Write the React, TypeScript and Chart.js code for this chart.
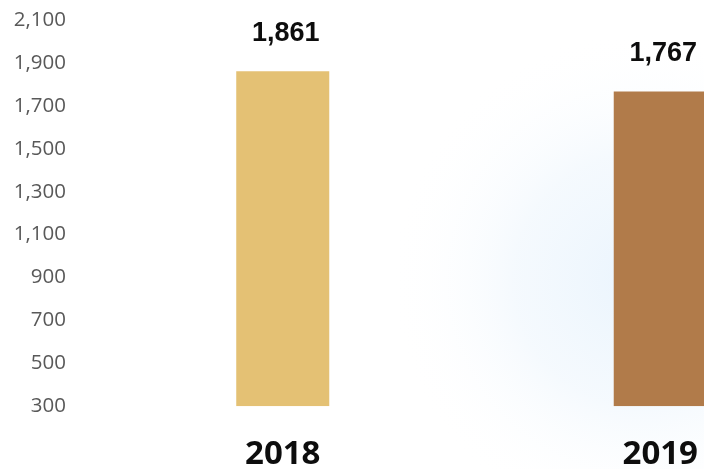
import React, { useEffect, useRef } from "react";
import { Chart, registerables } from "chart.js";

Chart.register(...registerables);

const categories: string[] = ["2018", "2019"];
const values: number[] = [1861, 1767];
const barColors: string[] = ["#E4C174", "#B17B4A"];
const yMin = 300;
const yMax = 2100;
const yStep = 200;

const W = 849;
const H = 469;

const bgPlugin = {
  id: "bgGlow",
  beforeDraw(chart: any) {
    const ctx = chart.ctx;
    ctx.save();
    ctx.fillStyle = "#ffffff";
    ctx.fillRect(0, 0, chart.width, chart.height);
    const g = ctx.createRadialGradient(640, 280, 0, 640, 280, 250);
    g.addColorStop(0, "rgba(232,243,253,0.9)");
    g.addColorStop(0.5, "rgba(238,246,253,0.6)");
    g.addColorStop(1, "rgba(255,255,255,0)");
    ctx.fillStyle = g;
    ctx.fillRect(0, 0, chart.width, chart.height);
    ctx.restore();
  },
};

const labelPlugin = {
  id: "valueLabels",
  afterDatasetsDraw(chart: any) {
    const ctx = chart.ctx;
    const meta = chart.getDatasetMeta(0);
    ctx.save();
    ctx.font = "bold 27px 'Liberation Sans', Arial, sans-serif";
    ctx.fillStyle = "#0d0d0d";
    ctx.textAlign = "center";
    ctx.textBaseline = "alphabetic";
    meta.data.forEach((el: any, i: number) => {
      const v = chart.data.datasets[0].data[i] as number;
      ctx.fillText(v.toLocaleString("en-US"), el.x + 3, el.y - 30);
    });
    ctx.restore();
  },
};

export default function App() {
  const ref = useRef<HTMLCanvasElement | null>(null);
  useEffect(() => {
    if (!ref.current) return;
    const chart = new Chart(ref.current, {
      type: "bar",
      data: {
        labels: categories,
        datasets: [
          {
            data: values,
            backgroundColor: barColors,
            borderWidth: 0,
            base: yMin,
            categoryPercentage: 1,
            barPercentage: 0.2464,
          } as any,
        ],
      },
      options: {
        animation: false,
        responsive: false,
        devicePixelRatio: 1,
        layout: { padding: { top: 20, left: 0, right: 0, bottom: 0 } },
        plugins: {
          legend: { display: false },
          tooltip: { enabled: false },
        },
        scales: {
          x: {
            grid: { display: false, drawTicks: false },
            border: { display: false },
            ticks: {
              padding: 28,
              color: "#0d0d0d",
              font: { family: "'Open Sans', sans-serif", size: 33, weight: "bold" },
            },
            afterFit(scale: any) {
              scale.height = 62.7;
              scale.paddingLeft = 0;
              scale.paddingRight = 0;
            },
          },
          y: {
            min: yMin,
            max: yMax,
            grid: { display: false, drawTicks: false },
            border: { display: false },
            ticks: {
              stepSize: yStep,
              padding: 28,
              color: "#595959",
              font: { family: "'Open Sans', sans-serif", size: 20.5 },
              callback: (v: any) => Number(v).toLocaleString("en-US"),
            },
            afterFit(scale: any) {
              scale.width = 94;
              scale.paddingTop = 0;
              scale.paddingBottom = 0;
            },
          },
        },
      },
      plugins: [bgPlugin, labelPlugin],
    });
    return () => chart.destroy();
  }, []);
  return (
    <div style={{ position: "fixed", left: 0, top: 0, width: 704, height: H, overflow: "hidden" }}>
      <canvas ref={ref} width={W} height={H} style={{ width: W, height: H, display: "block" }} />
    </div>
  );
}
